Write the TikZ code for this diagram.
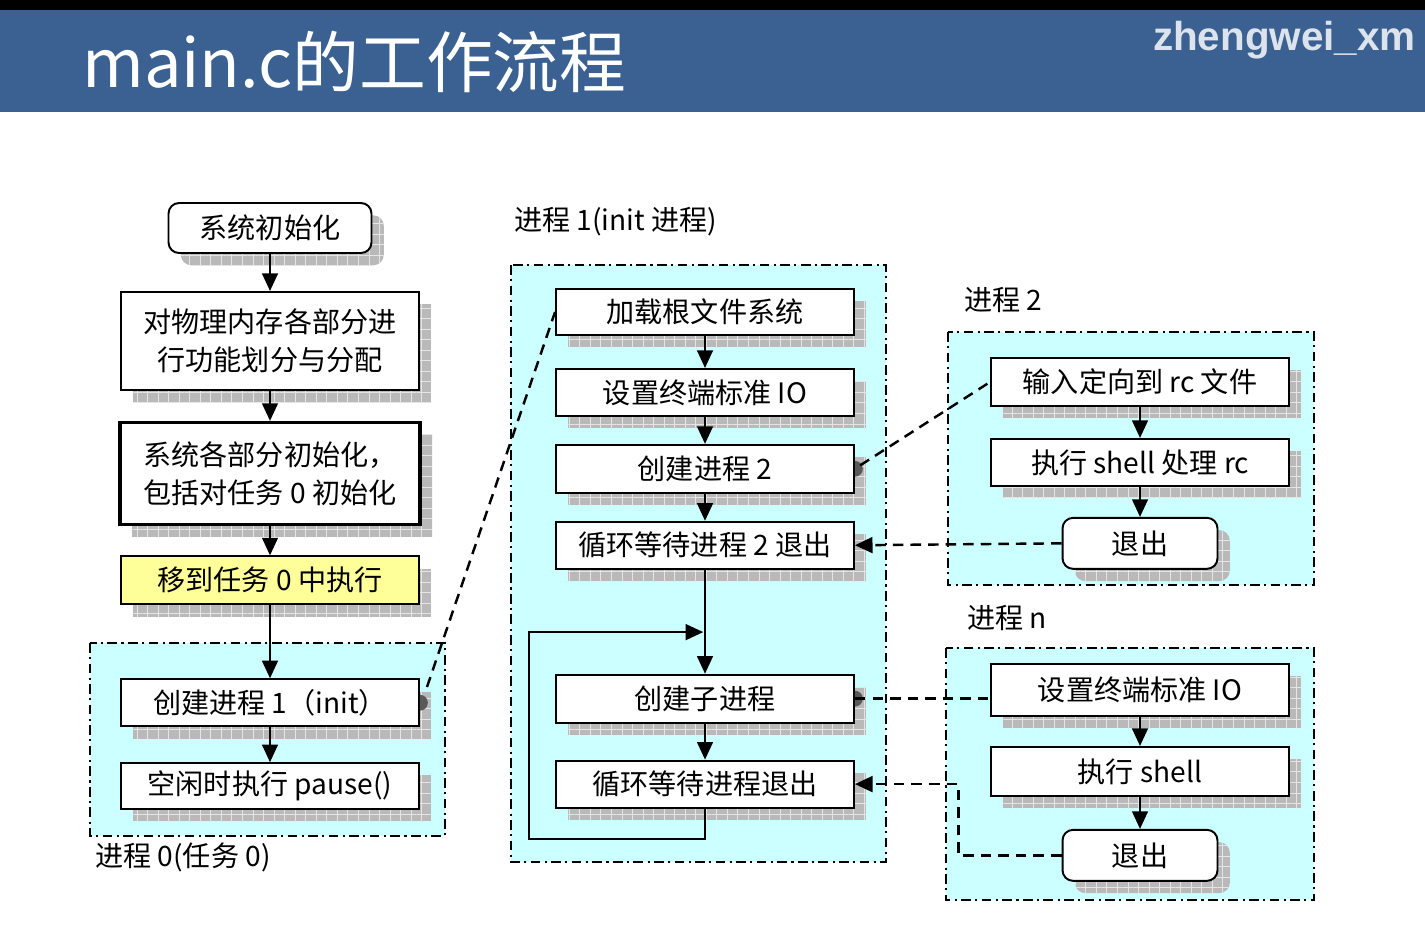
\documentclass[tikz,border=0pt]{standalone}
\usepackage{fontspec}
\setmainfont{Noto Sans CJK SC}
\newfontfamily\markfont{Liberation Sans}
\usetikzlibrary{arrows.meta, positioning, patterns.meta, calc}
\definecolor{slideblue}{HTML}{3A6191}
\definecolor{proccyan}{HTML}{CCFFFF}
\definecolor{stepyellow}{HTML}{FFFF99}
\definecolor{markgray}{HTML}{DCE3EC}
\newcommand\boxfont{\fontsize{16}{22}\selectfont}

\begin{document}
\begin{tikzpicture}[
  x=0.02cm, y=-0.02cm,
  boxshadow/.style={
    preaction={draw=none, fill=gray!55, transform canvas={shift={(7pt,-7pt)}}},
    preaction={draw=none, pattern={Hatch[distance=6pt, line width=0.5pt]},
      pattern color=gray!20, transform canvas={shift={(7pt,-7pt)}}},
  },
  stepbox/.style={
    rectangle, draw, line width=1.1pt, fill=white, boxshadow,
    minimum width=5.96cm, minimum height=0.94cm, inner sep=2pt,
    font=\boxfont, align=center,
  },
  endbox/.style={stepbox, rounded corners=6pt, minimum width=3.1cm, minimum height=1.02cm},
  group/.style={draw, line width=1pt, fill=proccyan,
    dash pattern=on 5.5pt off 2.5pt on 1.2pt off 2.5pt},
  grouplabel/.style={anchor=west, inner sep=0pt, font=\boxfont},
  flow/.style={-{Triangle[length=10pt, width=9pt]}, line width=1.1pt},
  dep/.style={line width=1.4pt, dash pattern=on 6pt off 4pt},
  deparrow/.style={dep, -{Triangle[length=10pt, width=9pt]}},
  dot/.style={fill=black!65},
]
  \useasboundingbox (0,0) rectangle (1425,930);
  \fill[white] (0,0) rectangle (1425,930);

  % slide header
  \fill[black] (0,0) rectangle (1425,10);
  \fill[slideblue] (0,10) rectangle (1425,112);
  \node[anchor=west, text=white, font=\fontsize{38}{44}\selectfont] (title) at (76,62) {main.c的工作流程};
  \node[anchor=east, text=markgray, font=\markfont\bfseries\fontsize{23}{26}\selectfont] (author) at (1422,40) {zhengwei\_xm};

  % process frames
  \draw[group] (90,643) rectangle (445,836);
  \draw[group] (511,265) rectangle (886,862);
  \draw[group] (948,332) rectangle (1314,585);
  \draw[group] (946,648) rectangle (1314,900);

  \node[grouplabel] (p0label) at (95,857) {进程 0(任务 0)};
  \node[grouplabel] (p1label) at (514,222) {进程 1(init 进程)};
  \node[grouplabel] (p2label) at (964,300) {进程 2};
  \node[grouplabel] (pnlabel) at (967,618) {进程 n};

  % kernel start-up (left)
  \node[stepbox, rounded corners=6pt, minimum width=4.06cm, minimum height=1cm] (init) at (270,228) {系统初始化};
  \node[stepbox, minimum height=1.96cm, below=0.74cm of init] (mem) {对物理内存各部分进\\行功能划分与分配};
  \node[stepbox, minimum width=6cm, minimum height=2.04cm, line width=2pt, below=0.6cm of mem] (sysinit) {系统各部分初始化，\\包括对任务 0 初始化};
  \node[stepbox, fill=stepyellow, minimum height=0.96cm, below=0.58cm of sysinit] (move) {移到任务 0 中执行};
  \node[stepbox, below=1.46cm of move] (fork1) {创建进程 1（init）};
  \node[stepbox, minimum height=0.92cm, below=0.7cm of fork1] (pause) {空闲时执行 pause()};

  % process 1 (middle)
  \node[stepbox, minimum height=0.92cm] (load) at (705,312) {加载根文件系统};
  \node[stepbox, below=0.64cm of load] (tty1) {设置终端标准 IO};
  \node[stepbox, minimum height=0.96cm, below=0.54cm of tty1] (fork2) {创建进程 2};
  \node[stepbox, below=0.54cm of fork2] (wait2) {循环等待进程 2 退出};
  \node[stepbox, minimum height=0.96cm, below=2.08cm of wait2] (forkc) {创建子进程};
  \node[stepbox, below=0.72cm of forkc] (waitc) {循环等待进程退出};

  % process 2 (right top)
  \node[stepbox, minimum height=0.96cm] (redir) at (1140,382) {输入定向到 rc 文件};
  \node[stepbox, below=0.62cm of redir] (shellrc) {执行 shell 处理 rc};
  \node[endbox, below=0.6cm of shellrc] (exit2) {退出};

  % process n (right bottom)
  \node[stepbox, minimum height=1.04cm] (ttyn) at (1140,690) {设置终端标准 IO};
  \node[stepbox, minimum height=0.98cm, below=0.58cm of ttyn] (shelln) {执行 shell};
  \node[endbox, below=0.64cm of shelln] (exitn) {退出};

  % fork dots
  \fill[dot] ([yshift=-4.5pt]fork1.east) arc[start angle=-90, end angle=90, radius=4.5pt] -- cycle;
  \fill[dot] ([yshift=-4.5pt]fork2.east) arc[start angle=-90, end angle=90, radius=4.5pt] -- cycle;
  \fill[dot] ([yshift=-4.5pt]forkc.east) arc[start angle=-90, end angle=90, radius=4.5pt] -- cycle;

  % control flow
  \draw[flow] (init) -- (mem);
  \draw[flow] (mem) -- (sysinit);
  \draw[flow] (sysinit) -- (move);
  \draw[flow] (move) -- (fork1);
  \draw[flow] (fork1) -- (pause);

  \draw[flow] (load) -- (tty1);
  \draw[flow] (tty1) -- (fork2);
  \draw[flow] (fork2) -- (wait2);
  \draw[flow] (wait2) -- (forkc);
  \draw[flow] (forkc) -- (waitc);
  \coordinate (join) at ($(wait2.south)!0.6!(forkc.north)$);
  \draw[flow] (waitc.south) -- ++(0,30) -| ([xshift=-3.52cm]join) -- ([xshift=-1pt]join);

  \draw[flow] (redir) -- (shellrc);
  \draw[flow] (shellrc) -- (exit2);
  \draw[flow] (ttyn) -- (shelln);
  \draw[flow] (shelln) -- (exitn);

  % process links
  \draw[dep] ([xshift=4pt,yshift=-5pt]fork1.north east) -- (load.west);
  \draw[dep] ([xshift=3pt,yshift=2pt]fork2.east) -- (redir.west);
  \draw[dep] (forkc.east) -- (forkc.east -| ttyn.west);
  \draw[deparrow] (exit2.west) -- (wait2.east);
  \draw[deparrow] (exitn.west) -- ([xshift=-2.06cm]exitn.west) |- (waitc.east);
\end{tikzpicture}
\end{document}
